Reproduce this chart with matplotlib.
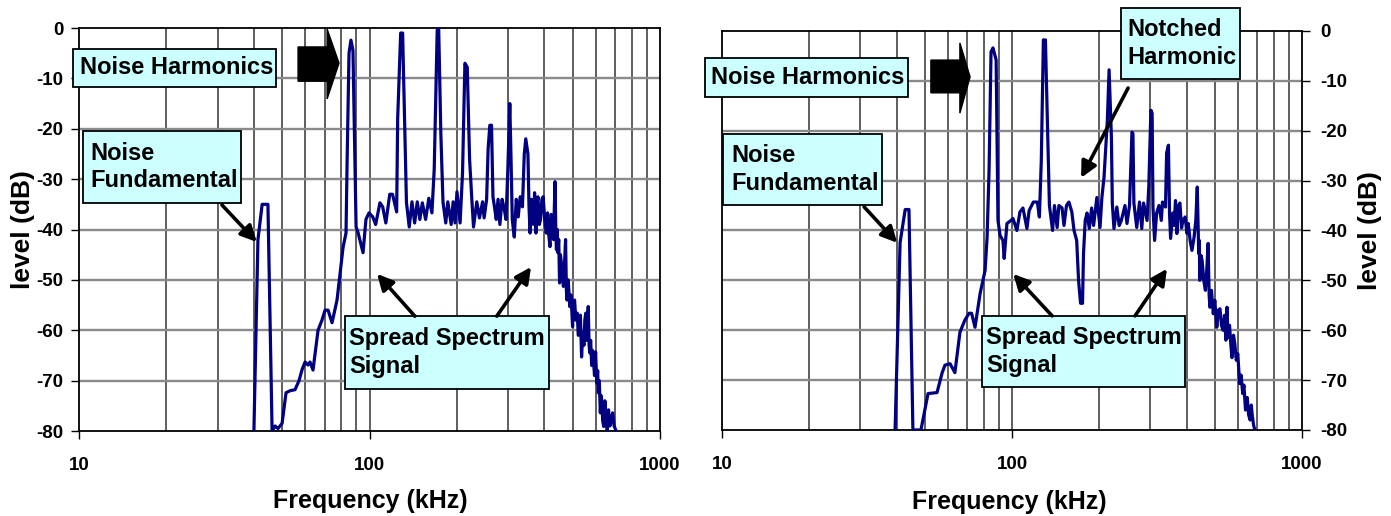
import matplotlib.pyplot as plt
from matplotlib.patches import Rectangle, Polygon
from matplotlib.ticker import FixedLocator, NullFormatter

plt.rcParams['font.family'] = ['Liberation Sans', 'DejaVu Sans']
plt.rcParams['font.weight'] = 'bold'
plt.rcParams['axes.unicode_minus'] = False

# spectrum with all harmonics present (kHz, dB)
freq_a = [40.0, 41.3, 42.7, 44.7, 46.2, 47.3, 48.4, 50.0, 51.6, 53.3, 55.4, 57.2, 58.6,
          60.0, 61.4, 62.4, 63.9, 66.5, 68.6, 70.3, 72.0, 74.3, 77.3, 80.5, 81.1, 83.0,
          83.7, 85.0, 86.3, 87.7, 89.9, 91.2, 95.0, 97.2, 99.6, 102.6, 105, 108.6, 111,
          113.8, 117.4, 120, 124, 125, 128, 130, 132, 134, 137, 140, 143, 146, 149, 152,
          156, 160, 164, 167, 171, 173, 176, 179, 183, 186, 191, 194, 197, 200, 205, 209,
          213, 217, 221, 225, 228, 234, 239, 245, 248, 253, 256, 259.5, 263, 266, 270,
          273, 277, 281, 286, 291, 295, 299, 304, 307, 310, 315, 320, 325, 330, 336, 341,
          345, 351, 354, 357, 361, 364, 367, 370, 374, 377, 380, 384, 388, 392, 396, 401,
          406, 410, 414, 418, 422, 426, 430]
level_a = [-80, -42, -35, -35, -80, -79, -79.5, -78.5, -72.4, -72, -71.8, -70, -67.8,
           -66.3, -66.9, -66.3, -67.9, -60, -58, -56, -56, -58.5, -54, -45, -43.5, -40.7,
           -27, -5, -2.4, -4.4, -39.5, -40.5, -44.6, -38, -36.7, -37.5, -39, -34.7, -35.5,
           -38.7, -33, -33, -36.5, -18, -1, -1, -18, -34.6, -39.5, -34.5, -38.7, -34.5, -38, -34.7,
           -38, -33.8, -36.7, -28, -0.4, 0, -21, -34.5, -38.7, -34.5, -39, -34.5, -38.7, -32.5, -38.7, -28.8,
           -7, -7.8, -26, -34, -39.5, -34.5, -37.7, -34.5, -37.7, -34, -24, -19.3, -19.3, -33.5, -36,
           -38, -34, -39, -34, -36, -38, -28.8, -15, -26, -38, -41.5, -34, -37.5, -33.5, -35.5, -25,
           -22, -25, -35.5, -40.7, -34, -35.5, -39, -32.7, -40.7, -35, -33.5, -39, -38, -34, -33.5, -38,
           -40.7, -36.7, -41, -43.4, -37, -38, -42]
# roll-off above the spread band
tail_freq_a = [435, 438, 440, 443, 445, 448, 451, 454, 458, 461, 465, 469, 473, 476, 478,
               483, 489, 494, 500, 504, 508, 513, 519, 523, 528, 532, 537, 542, 547, 551,
               555, 560, 566, 570, 573, 577, 582, 586, 590, 595, 600, 606, 610, 613, 618,
               623, 627, 630, 635, 640, 646, 652, 658, 665, 672, 680, 687, 695, 706]
tail_level_a = [-30.5, -41, -44, -40, -44.6, -42, -50.6, -45, -46.8, -49, -51.3, -47, -42, -52, -54,
                -50, -55.3, -53, -59.3, -55, -54, -58, -56.6, -61, -60.5, -57, -65.3, -60.5, -63, -58,
                -56.6, -62, -55.3, -63, -64.5, -62, -67, -64, -66, -69, -64.3, -70.5, -68, -72.4, -70,
                -76.4, -73, -74, -78, -79.1, -74, -77, -80, -75.8, -79, -77.8, -76.4, -79, -80]

# spectrum with the 4th harmonic notched out
freq_b = [39.5, 41.1, 42.8, 44.1, 45.5, 48.5, 51.3, 55.1, 57.4, 58.7, 61.1, 63.5, 66.1,
          68.7, 71.1, 72.5, 74.5, 77.6, 80.7, 82, 83.3, 84.6, 85.9, 88.1, 89.4, 90.9, 93,
          93.9, 96, 99.1, 100.7, 103.9, 106.4, 109, 112.5, 114.5, 118.4, 122.2, 124.2,
          126.1, 128.2, 130.3, 132.3, 134.5, 137.9, 140, 143, 145, 148.7, 151, 154, 157,
          160.7, 163.5, 167, 169.5, 172.2, 174.9, 176.3, 178.7, 181.3, 184.6, 188, 191,
          196, 201, 204, 207.5, 213, 216, 220, 221.6, 224.5, 229.7, 234, 238, 245, 249,
          254, 259, 261, 263, 269, 275, 280, 284, 292, 296, 301, 304, 306, 310, 315, 321,
          327, 330, 338, 341, 346, 349, 352, 358, 362, 366, 370, 375, 379, 384, 388, 395,
          401, 405, 411, 417, 424, 430, 435]
level_b = [-80, -42.4, -35.8, -35.8, -80, -80, -72.7, -72.5, -68.5, -67, -66.7, -68.5, -60.4,
           -58, -56.6, -56.6, -59.4, -52.6, -48, -41.4, -27.9, -4.2, -3.4, -5.8, -38, -41, -42,
           -45.6, -38.6, -38, -37.6, -40, -36.3, -35.5, -39.6, -36, -34.3, -34.3, -37.3,
           -26, -1.8, -1.8, -17.9, -35, -40, -35, -39.4, -35, -35.5, -39, -35, -34.3,
           -36.3, -40, -42, -50, -54.6, -54.6, -44.6, -38, -36.5, -39.6, -35.5, -39,
           -33.4, -39.4, -33.4, -29.3, -18, -7.8, -21.3, -34.5, -39.6, -35.3, -39, -38, -35, -38.6,
           -35, -20.3, -20.5, -34.5, -39.4, -34.3, -39.6, -34.5, -38, -31.3, -15.9, -16.5, -35.3, -42, -36.5, -35,
           -38, -34.3, -35.3, -24.5, -22.9, -36.5, -41.6, -36.5, -39, -34, -40.6, -35, -34.5, -39.5, -38, -37.3,
           -40.6, -38.6, -42, -44, -41.4, -38, -31.3]
tail_freq_b = [440, 442, 444, 448, 452, 458, 464, 469, 474, 478, 481, 487, 494, 500, 508,
               514, 521, 527, 534, 540, 546, 551, 555, 562, 568, 573, 580, 586, 593, 600,
               605, 609, 616, 624, 630, 638, 647, 654, 662, 668, 672, 680, 687]
tail_level_b = [-44.6, -42, -50, -45, -46, -50, -52, -48, -42.6, -53, -55.4, -52, -56.7, -54, -59.4,
                -56, -55.7, -59, -60, -57, -62, -55.4, -61.5, -59, -63, -65.5, -61, -62.7, -66, -64.7,
                -68, -70.7, -69, -72.7, -71, -76, -73.5, -77, -78, -75, -76.7, -79, -80]

yticks = [0, -10, -20, -30, -40, -50, -60, -70, -80]
xticks = [10, 100, 1000]
xtick_labels = ['10', '100', '1000']
grid_freqs = [20, 30, 40, 50, 60, 70, 80, 90, 100, 200, 300, 400, 500, 600, 700, 800, 900]

box_kw = dict(facecolor='#ccffff', edgecolor='black', lw=1.3, zorder=5, clip_on=False)
txt_kw = dict(ha='left', va='center', fontsize=17, fontweight='bold', zorder=6,
              linespacing=1.25, clip_on=False)
arr_kw = dict(arrowstyle='-|>', color='black', lw=2.6, mutation_scale=24,
              shrinkA=0, shrinkB=0)


def setup(ax, side):
    ax.set_xscale('log')
    ax.set_xlim(10, 1000)
    ax.set_ylim(-80, 0)
    ax.xaxis.set_major_locator(FixedLocator(xticks))
    ax.set_xticklabels(xtick_labels)
    ax.xaxis.set_minor_locator(FixedLocator(grid_freqs))
    ax.xaxis.set_minor_formatter(NullFormatter())
    ax.set_yticks(yticks)
    ax.tick_params(axis='x', which='major', direction='out', length=6, width=1,
                   pad=13, labelsize=13.5)
    ax.tick_params(axis='x', which='minor', length=0)
    for v in grid_freqs:
        ax.axvline(v, color='#333333', lw=1.1, zorder=1)
    for v in yticks[1:-1]:
        ax.axhline(v, color='#8a8a8a', lw=1.7, zorder=1)
    for s in ax.spines.values():
        s.set_linewidth(1.3)
        s.set_zorder(3)
    if side == 'left':
        ax.tick_params(axis='y', direction='out', length=6, width=1, pad=5,
                       labelsize=13.5, left=True, right=False)
        ax.yaxis.set_label_coords(-0.075, 0.5)
    else:
        ax.yaxis.tick_right()
        ax.yaxis.set_label_position('right')
        ax.tick_params(axis='y', direction='out', length=6, width=1, pad=7,
                       labelsize=13.5, left=False, right=True)
        ax.yaxis.set_label_coords(1.097, 0.5)
    ax.set_ylabel('level (dB)', fontsize=19, fontweight='bold', rotation=90)
    ax.set_xlabel('Frequency (kHz)', fontsize=18, fontweight='bold')


fig = plt.figure(figsize=(13.91, 5.16), dpi=100)
axL = fig.add_axes([0.0568, 0.1647, 0.4177, 0.781])
axR = fig.add_axes([0.5191, 0.1667, 0.417, 0.7733])

# left panel
setup(axL, 'left')
axL.xaxis.set_label_coords(0.502, -0.145)
axL.plot(freq_a + tail_freq_a, level_a + tail_level_a, color='#000080', lw=2.3, zorder=4)

axL.add_patch(Polygon([(0.377, 0.868), (0.377, 0.953), (0.427, 0.953), (0.427, 0.9975),
                       (0.4475, 0.913), (0.427, 0.824), (0.427, 0.868)],
                      closed=True, color='black', transform=axL.transAxes, zorder=5,
                      clip_on=False))
axL.add_patch(Rectangle((-0.0103, 0.8536), 0.349, 0.0943, transform=axL.transAxes, **box_kw))
axL.text(0.002, 0.901, 'Noise Harmonics', transform=axL.transAxes, **txt_kw)
axL.add_patch(Rectangle((0.0069, 0.5658), 0.2719, 0.1786, transform=axL.transAxes, **box_kw))
axL.text(0.019, 0.655, 'Noise\nFundamental', transform=axL.transAxes, **txt_kw)
axL.add_patch(Rectangle((0.4578, 0.104), 0.3512, 0.1814, transform=axL.transAxes, **box_kw))
axL.text(0.465, 0.195, 'Spread Spectrum\nSignal', transform=axL.transAxes, **txt_kw)

axL.annotate('', xy=(0.306, 0.469), xytext=(0.246, 0.561), xycoords='axes fraction',
             arrowprops=arr_kw, zorder=6)
axL.annotate('', xy=(0.513, 0.390), xytext=(0.578, 0.285), xycoords='axes fraction',
             arrowprops=arr_kw, zorder=6)
axL.annotate('', xy=(0.778, 0.407), xytext=(0.719, 0.285), xycoords='axes fraction',
             arrowprops=arr_kw, zorder=6)

# right panel
setup(axR, 'right')
axR.xaxis.set_label_coords(0.495, -0.150)
axR.plot(freq_b + tail_freq_b, level_b + tail_level_b, color='#000080', lw=2.3, zorder=4)

axR.add_patch(Polygon([(0.360, 0.845), (0.360, 0.927), (0.410, 0.927), (0.410, 0.970),
                       (0.4276, 0.885), (0.410, 0.794), (0.410, 0.845)],
                      closed=True, color='black', transform=axR.transAxes, zorder=5,
                      clip_on=False))
axR.add_patch(Rectangle((-0.0293, 0.8346), 0.35, 0.0977, transform=axR.transAxes, **box_kw))
axR.text(-0.019, 0.883, 'Noise Harmonics', transform=axR.transAxes, **txt_kw)
axR.add_patch(Rectangle((0.002, 0.564), 0.274, 0.178, transform=axR.transAxes, **box_kw))
axR.text(0.0155, 0.653, 'Noise\nFundamental', transform=axR.transAxes, **txt_kw)
axR.add_patch(Rectangle((0.688, 0.8797), 0.205, 0.1779, transform=axR.transAxes, **box_kw))
axR.text(0.698, 0.969, 'Notched\nHarmonic', transform=axR.transAxes, **txt_kw)
axR.add_patch(Rectangle((0.448, 0.1078), 0.35, 0.1779, transform=axR.transAxes, **box_kw))
axR.text(0.455, 0.197, 'Spread Spectrum\nSignal', transform=axR.transAxes, **txt_kw)

axR.annotate('', xy=(0.302, 0.469), xytext=(0.245, 0.559), xycoords='axes fraction',
             arrowprops=arr_kw, zorder=6)
axR.annotate('', xy=(0.502, 0.391), xytext=(0.569, 0.286), xycoords='axes fraction',
             arrowprops=arr_kw, zorder=6)
axR.annotate('', xy=(0.767, 0.404), xytext=(0.712, 0.286), xycoords='axes fraction',
             arrowprops=arr_kw, zorder=6)
axR.annotate('', xy=(0.619, 0.632), xytext=(0.700, 0.857), xycoords='axes fraction',
             arrowprops=arr_kw, zorder=6)

fig.savefig('out.png', dpi=100)
